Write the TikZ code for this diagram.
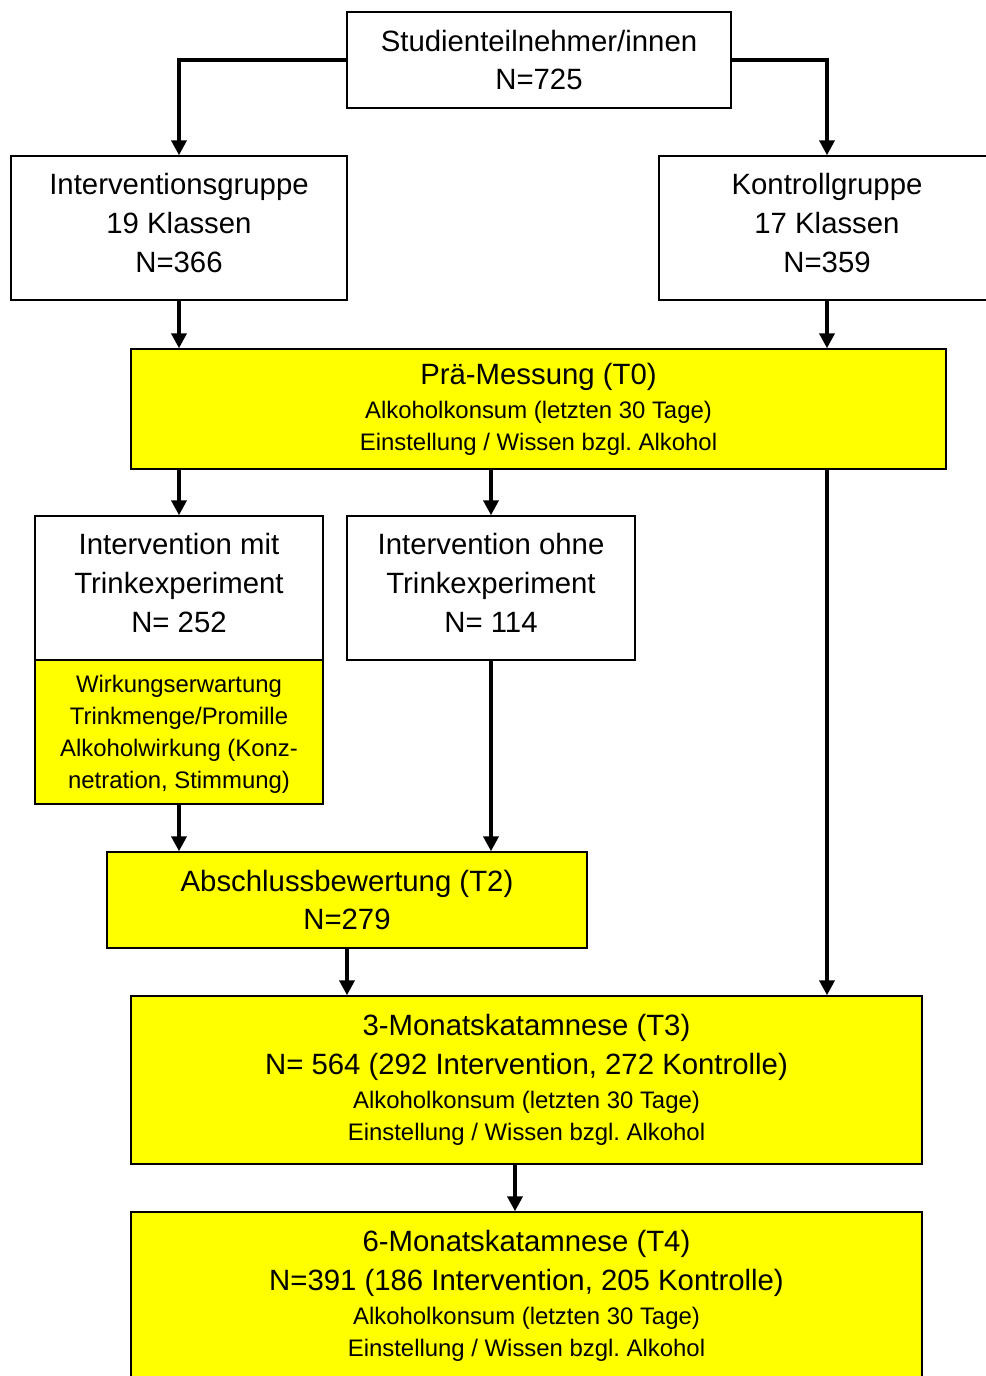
\documentclass[tikz,border=0pt]{standalone}
\usepackage{fontspec}
\setmainfont{Liberation Sans}
\usetikzlibrary{positioning, arrows.meta}
\definecolor{stageyellow}{RGB}{255,255,0}
\frenchspacing
\tikzset{
  stage/.style={
    draw,
    line width=0.85pt,
    fill=white,
    align=center,
    inner sep=0pt,
    font=\fontsize{16.7}{22.1}\selectfont,
  },
  group/.style={
    stage,
    text depth=6pt,
  },
  measure/.style={
    stage,
    fill=stageyellow,
  },
  flow/.style={
    line width=2.1pt,
    -{Triangle[length=8.5pt,width=8.5pt]},
  },
}
\newcommand{\detail}{\fontsize{13.6}{18.2}\selectfont}

\begin{document}
\begin{tikzpicture}[x=0.02cm, y=-0.02cm]
		\useasboundingbox (0,0) rectangle (986,1376);

		% groups
		\node[stage, minimum width=7.68cm, minimum height=1.92cm] (all) at (539,60) {Studienteilnehmer/innen\\N=725};
		\node[group, minimum width=6.72cm, minimum height=2.88cm] (ig) at (179,228) {Interventionsgruppe\\19 Klassen\\N=366};
		\node[group, minimum width=6.72cm, minimum height=2.88cm] (kg) at (827,228) {Kontrollgruppe\\17 Klassen\\N=359};

		% measurements and interventions
		\node[measure, minimum width=16.3cm, minimum height=2.4cm] (t0) at (538.5,409) {Prä-Messung (T0)\\[-2.8pt]{\detail Alkoholkonsum (letzten 30 Tage)}\\[-4pt]{\detail Einstellung / Wissen bzgl. Alkohol}};
		\node[group, minimum width=5.76cm, minimum height=2.88cm] (mit) at (179,588) {Intervention mit\\Trinkexperiment\\N= 252};
		\node[measure, minimum width=5.76cm, minimum height=2.88cm, font=\detail, text depth=0pt] (wirk) at (179,732) {Wirkungserwartung\\Trinkmenge/Promille\\Alkoholwirkung (Konz-\\netration, Stimmung)};
		\node[group, minimum width=5.76cm, minimum height=2.88cm] (ohne) at (491,588) {Intervention ohne\\Trinkexperiment\\N= 114};
		\node[measure, minimum width=9.6cm, minimum height=1.92cm] (t2) at (347,900) {Abschlussbewertung (T2)\\N=279};
		\node[measure, minimum width=15.82cm, minimum height=3.36cm] (t3) at (526.5,1080) {3-Monatskatamnese (T3)\\N= 564 (292 Intervention, 272 Kontrolle)\\[-2.8pt]{\detail Alkoholkonsum (letzten 30 Tage)}\\[-4pt]{\detail Einstellung / Wissen bzgl. Alkohol}};
		\node[measure, minimum width=15.82cm, minimum height=3.36cm] (t4) at (526.5,1296) {6-Monatskatamnese (T4)\\N=391 (186 Intervention, 205 Kontrolle)\\[-2.8pt]{\detail Alkoholkonsum (letzten 30 Tage)}\\[-4pt]{\detail Einstellung / Wissen bzgl. Alkohol}};
		\coordinate (follow) at (515,0);

		% edges
		\draw[flow] (all.west) -| (ig.north);
		\draw[flow] (all.east) -| (kg.north);
		\draw[flow] (ig.south) -- (ig |- t0.north);
		\draw[flow] (kg.south) -- (kg |- t0.north);
		\draw[flow] (mit |- t0.south) -- (mit.north);
		\draw[flow] (ohne |- t0.south) -- (ohne.north);
		\draw[flow] (kg |- t0.south) -- (kg |- t3.north);
		\draw[flow] (wirk.south) -- (wirk |- t2.north);
		\draw[flow] (ohne.south) -- (ohne |- t2.north);
		\draw[flow] (t2.south) -- (t2 |- t3.north);
		\draw[flow] (follow |- t3.south) -- (follow |- t4.north);
	\end{tikzpicture}
\end{document}
